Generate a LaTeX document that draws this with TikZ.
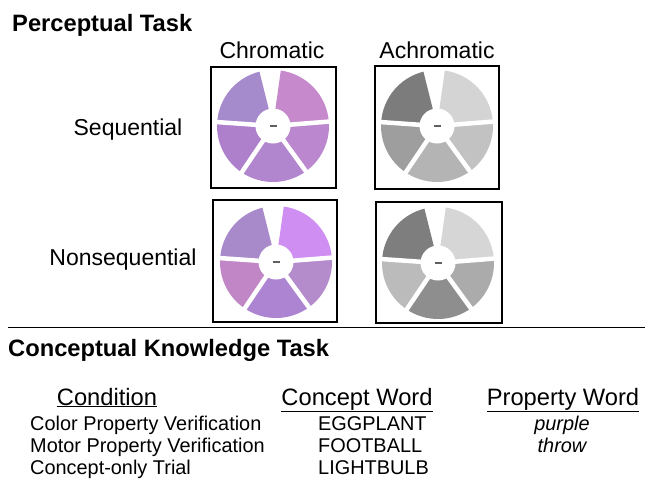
\documentclass[tikz,border=0pt]{standalone}
\usepackage{fontspec}
\setmainfont{Liberation Sans}

% wheel colours
\definecolor{cUL}{HTML}{A68BCC}
\definecolor{cUR}{HTML}{C689CB}
\definecolor{cLL}{HTML}{AE80CC}
\definecolor{cBM}{HTML}{B286CE}
\definecolor{cLR}{HTML}{BB88CF}
\definecolor{nUL}{HTML}{A88ACB}
\definecolor{nUR}{HTML}{CE8EF2}
\definecolor{nLL}{HTML}{C086C6}
\definecolor{nBM}{HTML}{AC84D2}
\definecolor{nLR}{HTML}{B48CCB}
\definecolor{gUL}{HTML}{7C7C7C}
\definecolor{gUR}{HTML}{D4D4D4}
\definecolor{gLL}{HTML}{9E9E9E}
\definecolor{gBM}{HTML}{B4B4B4}
\definecolor{gLR}{HTML}{C2C2C2}
\definecolor{hUL}{HTML}{7E7E7E}
\definecolor{hUR}{HTML}{D6D6D6}
\definecolor{hLL}{HTML}{BBBBBB}
\definecolor{hBM}{HTML}{8E8E8E}
\definecolor{hLR}{HTML}{ABABAB}
\definecolor{dashgray}{HTML}{606060}

\tikzset{
  title/.style={font=\fontsize{23.7}{28}\selectfont\bfseries, anchor=base west, inner sep=0pt},
  label/.style={font=\fontsize{23}{27}\selectfont, anchor=base, inner sep=0pt},
  header/.style={font=\fontsize{23.7}{28}\selectfont, anchor=base, inner sep=0pt},
  row/.style={font=\fontsize{19.9}{24}\selectfont, anchor=base west, inner sep=0pt},
  prop/.style={font=\fontsize{19.9}{24}\selectfont\itshape, anchor=base, inner sep=0pt},
  framebox/.style={draw=black, line width=2pt},
}

% #1 centre, #2..#6 colours: upper left, upper right, lower left, bottom, lower right
\newcommand{\drawwheel}[6]{%
  \begin{scope}[shift={#1}]
    \fill[#2] (0,0) -- (104:56pt) arc[start angle=104, end angle=176, radius=56pt] -- cycle;
    \fill[#4] (0,0) -- (176:56pt) arc[start angle=176, end angle=236, radius=56pt] -- cycle;
    \fill[#5] (0,0) -- (236:56pt) arc[start angle=236, end angle=306, radius=56pt] -- cycle;
    \fill[#6] (0,0) -- (306:56pt) arc[start angle=306, end angle=364.5, radius=56pt] -- cycle;
    \fill[#3] (0,0) -- (4.5:56pt) arc[start angle=4.5, end angle=82, radius=56pt] -- cycle;
    \foreach \a in {176,236,306,4.5}
      \draw[white, line width=4.5pt] (0,0) -- (\a:60pt);
    \fill[white] (0,0) circle[radius=17.5pt];
    \draw[dashgray, line width=1.4pt] (-3.5pt,0) -- (3.5pt,0);
  \end{scope}}

\begin{document}
\begin{tikzpicture}[x=1pt, y=-1pt]
  \useasboundingbox (0,0) rectangle (645,479);

  % perceptual task
  \node[title] (ptask) at (12,31) {Perceptual Task};
  \node[label] (chrom) at (272,58) {Chromatic};
  \node[label] (achrom) at (437,58) {Achromatic};
  \node[label] (seq) at (128,135) {Sequential};
  \node[label] (nonseq) at (123,265) {Nonsequential};

  \drawwheel{(273,126)}{cUL}{cUR}{cLL}{cBM}{cLR}
  \drawwheel{(437,126)}{gUL}{gUR}{gLL}{gBM}{gLR}
  \drawwheel{(276,262)}{nUL}{nUR}{nLL}{nBM}{nLR}
  \drawwheel{(438,263)}{hUL}{hUR}{hLL}{hBM}{hLR}

  \draw[framebox] (211,67) rectangle (336,188);
  \draw[framebox] (375,66) rectangle (499,189);
  \draw[framebox] (213,200) rectangle (337,322);
  \draw[framebox] (376,202) rectangle (502,323);

  \draw[line width=1.5pt] (8,327.5) -- (645,327.5);

  % conceptual knowledge task
  \node[title] (ctask) at (8,356) {Conceptual Knowledge Task};
  \node[header] (hcond) at (107,405) {\underline{Condition}};
  \node[header] (hconc) at (357,405) {\underline{Concept Word}};
  \node[header] (hprop) at (563,405) {\underline{Property Word}};

  \node[row] (cond1) at (30,430) {Color Property Verification};
  \node[row] (cond2) at (30,452) {Motor Property Verification};
  \node[row] (cond3) at (30,474) {Concept-only Trial};
  \node[row] (conc1) at (318,430) {EGGPLANT};
  \node[row] (conc2) at (318,452) {FOOTBALL};
  \node[row] (conc3) at (318,474) {LIGHTBULB};
  \node[prop] (prop1) at (562,430) {purple};
  \node[prop] (prop2) at (562,452) {throw};
\end{tikzpicture}
\end{document}
